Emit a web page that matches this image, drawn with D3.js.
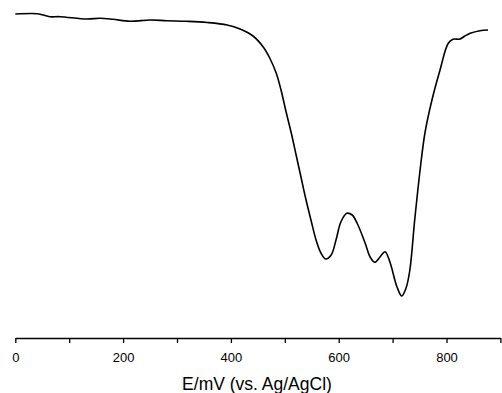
<!DOCTYPE html>
<html><head><meta charset="utf-8">
<script src="https://cdn.jsdelivr.net/npm/d3@7"></script>
<style>body{margin:0;background:#fff;}svg{display:block;}</style>
</head><body>
<svg id="chart" width="502" height="393"></svg>
<script>
const potential = [0,40,50,64,83,133,157,181,213,250,281,318,356,393,417,441,460,472,484,493,502,512,521,530,539,549,558,567,576,586,595,604,615,625,634,649,658,667,677,686,695,708,717,725,732,741,751,760,773,788,803,812,825,834,844,862,877];
const signal = [324,324.3,323.3,321.3,321.3,319,319.7,318.7,316.7,318,317.3,316.7,315.5,313,309,302,291,280,265,248,227,205,183,161,139,117,98,85,79,83,98,116,124.7,123,115,95,81.3,75.7,81.3,86.3,76,51.3,42,50,68,118,168,205,238,268,294.5,298.7,299,302,304.7,307.3,308];
const tickValues = [0,100,200,300,400,500,600,700,800,900];
const labeledTicks = [0,200,400,600,800];
const xLabel = "E/mV (vs. Ag/AgCl)";

const svg = d3.select("#chart");
const x = d3.scaleLinear().domain([0,900]).range([15.3,500.4]);
const y = d3.scaleLinear().domain([0,330]).range([338,8]);

const axis = d3.axisBottom(x).tickValues(tickValues).tickSize(5).tickSizeOuter(0)
  .tickFormat(d => labeledTicks.includes(d) ? d : "");
const g = svg.append("g").attr("transform","translate(0,338)").call(axis);
g.select(".domain").attr("stroke","#000").attr("stroke-width",1.3);
g.selectAll(".tick line").attr("stroke","#000").attr("stroke-width",1.3);
g.selectAll(".tick text").attr("font-family","'Liberation Sans', Arial, sans-serif")
  .attr("font-size",13).attr("fill","#000").attr("dy",null).attr("y",24);

svg.append("text").attr("x",257).attr("y",390)
  .attr("text-anchor","middle").attr("font-family","'Liberation Sans', Arial, sans-serif")
  .attr("font-size",17.5).attr("fill","#000").text(xLabel);

const data = potential.map((p,i)=>[p,signal[i]]);
svg.append("path").datum(data)
  .attr("fill","none").attr("stroke","#000").attr("stroke-width",1.6)
  .attr("d", d3.line().x(d=>x(d[0])).y(d=>y(d[1])).curve(d3.curveCatmullRom.alpha(0.5)));
</script>
</body></html>
